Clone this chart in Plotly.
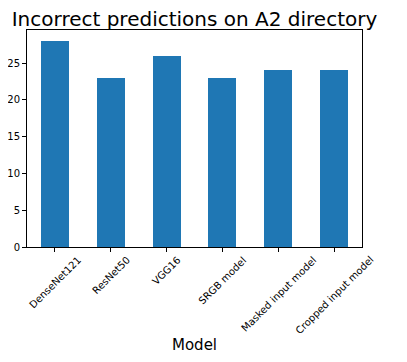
import plotly.graph_objects as go

models = ["DenseNet121", "ResNet50", "VGG16", "SRGB model", "Masked input model", "Cropped input model"]
incorrect = [28, 23, 26, 23, 24, 24]
y_ticks = [0, 5, 10, 15, 20, 25]

FONT = "DejaVu Sans"
x_idx = list(range(len(models)))

# the page body has an 8px default margin, so the figure is shrunk by 8px to fit the window
W, H = 399, 354

fig = go.Figure(go.Bar(x=x_idx, y=incorrect, width=0.5, marker=dict(color="#1f77b4", line=dict(width=0))))

annotations = []
for i, m in zip(x_idx, models):
    annotations.append(dict(x=i, y=0, xref="x", yref="paper", text=m, showarrow=False,
                            textangle=-45, xanchor="center", yanchor="top", yshift=-6,
                            borderpad=0,
                            font=dict(family=FONT, size=10, color="black")))
annotations.append(dict(x=0.5, y=0, xref="paper", yref="paper", text="Model", showarrow=False,
                        xanchor="center", yanchor="middle", yshift=-98,
                        font=dict(family=FONT, size=15, color="black")))

fig.update_layout(
    width=W, height=H,
    margin=dict(l=19, r=45, t=21.5, b=114.7, autoexpand=False),
    paper_bgcolor="white", plot_bgcolor="white",
    title=dict(text="Incorrect predictions on A2 directory", x=0.5, xref="paper", xanchor="center",
               y=1 - 10.5 / H, yanchor="middle", font=dict(family=FONT, size=20, color="black")),
    font=dict(family=FONT, size=10, color="black"),
    showlegend=False,
    annotations=annotations,
    bargap=0,
)
fig.update_xaxes(range=[-0.5, 5.5], tickvals=x_idx, ticktext=[""] * len(models), ticks="outside", ticklen=4,
                 tickcolor="black", showline=True, linecolor="black", linewidth=1, mirror=True,
                 showgrid=False, zeroline=False, fixedrange=True, automargin=False)
fig.update_yaxes(range=[0, 29.5], tickvals=y_ticks, ticks="outside", ticklen=4, tickcolor="black",
                 showline=True, linecolor="black", linewidth=1, mirror=True, showgrid=False,
                 zeroline=False, automargin=False, tickfont=dict(family=FONT, size=10, color="black"))

fig.write_html("out.html")
